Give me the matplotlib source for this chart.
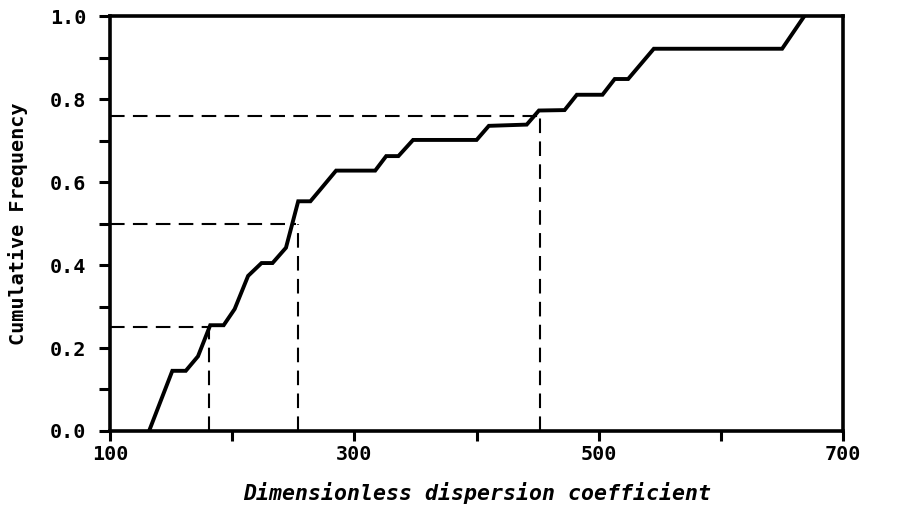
import matplotlib
matplotlib.use("Agg")
import matplotlib.pyplot as plt
from matplotlib.ticker import MultipleLocator

coef = [132, 151, 162, 172, 182, 193, 202, 213, 224, 233, 244, 254, 264, 272,
        285, 317, 326, 336, 348, 400, 410, 441, 451, 472, 482, 503, 513, 524,
        545, 650, 668]
freq = [0.0, 0.145, 0.145, 0.18, 0.255, 0.255, 0.294, 0.374, 0.405, 0.405,
        0.442, 0.554, 0.554, 0.582, 0.628, 0.628, 0.663, 0.663, 0.702, 0.702,
        0.736, 0.739, 0.773, 0.774, 0.811, 0.811, 0.849, 0.849, 0.922, 0.922,
        1.0]

# Quantile guide lines
q_levels = [0.25, 0.50, 0.76]
q_coef = [181, 254, 452]
q_curve_x = [181, 252, 452]

xticks = [100, 200, 300, 400, 500, 600, 700]
xtick_labels = ["100", "", "300", "", "500", "", "700"]
yticks = [0.0, 0.2, 0.4, 0.6, 0.8, 1.0]

fig = plt.figure(figsize=(8.98, 5.13), dpi=100)
ax = fig.add_axes([0.1225, 0.16, 0.8165, 0.808])

ax.plot(coef, freq, color="black", lw=2.8, solid_joinstyle="miter", zorder=3)

for lvl, xv, xc in zip(q_levels, q_coef, q_curve_x):
    ax.plot([100, xc], [lvl, lvl], color="black", lw=1.5, ls=(0, (7, 4)))
    ax.plot([xv, xv], [0, lvl], color="black", lw=1.5, ls=(0, (7, 4)))

ax.set_xlim(100, 700)
ax.set_ylim(0, 1.0)

for s in ax.spines.values():
    s.set_linewidth(2.6)

ax.set_xticks(xticks)
ax.set_xticklabels(xtick_labels)
ax.set_yticks(yticks)
ax.set_yticklabels([f"{v:.1f}" for v in yticks])
ax.yaxis.set_minor_locator(MultipleLocator(0.1))

mono = "DejaVu Sans Mono"
ax.tick_params(axis="both", which="both", direction="out", width=2.2,
               top=False, right=False)
ax.tick_params(axis="x", length=7, pad=3)
ax.tick_params(axis="y", which="both", length=8, pad=9)
for lab in ax.get_xticklabels() + ax.get_yticklabels():
    lab.set_fontfamily(mono)
    lab.set_fontweight("bold")
    lab.set_fontsize(14.5)

ax.set_ylabel("Cumulative Frequency", fontfamily=mono, fontweight="bold",
              fontsize=14.5, labelpad=16)
ax.set_xlabel("Dimensionless dispersion coefficient", fontfamily=mono,
              fontweight="bold", fontstyle="italic", fontsize=15.5, labelpad=13)

fig.savefig("out.png", dpi=100)
